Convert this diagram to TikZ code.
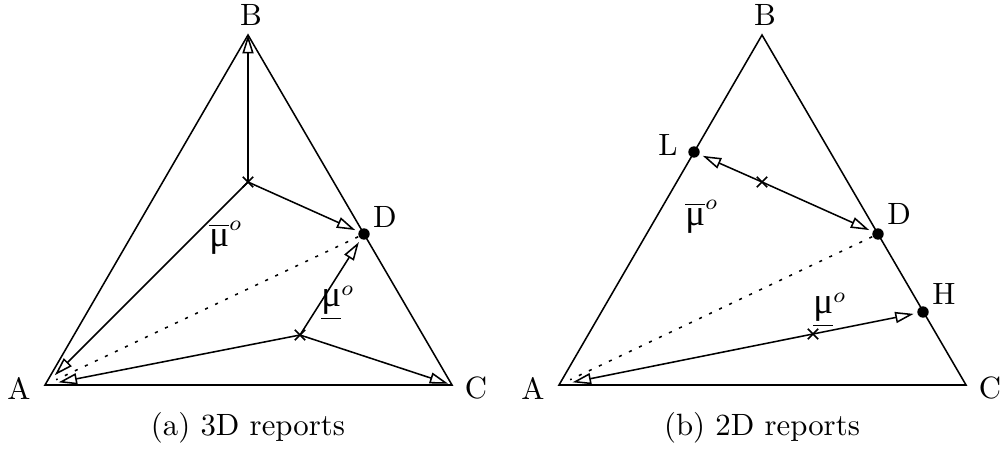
\documentclass[tikz,border=0pt]{standalone}
\usepackage{fontspec}
\newfontfamily\mufont{Liberation Serif}
\newcommand{\mue}{\hbox{\mufont\large μ}}
\usetikzlibrary{arrows.meta, shapes.misc}

\begin{document}
\begin{tikzpicture}[x=1.1416cm, y=1.1416cm,
			>={Triangle[open, length=6pt, width=3.6pt]},   %Pfeilspitzen
			line width=0.5pt, font=\normalsize,
			punkt/.style={circle, fill, inner sep=0pt, minimum size=3.7pt},
			kreuz/.style={draw, cross out, inner sep=0pt, outer sep=0pt, minimum size=3.4pt},
			zuA/.style={->, shorten >=4.5pt},
			zuP/.style={->, shorten >=1pt},
			gepunktet/.style={dash pattern=on 1pt off 2.6pt, shorten >=4pt}]
			\useasboundingbox (0,0) rectangle (10.03,4.55);
			% (a) Dreieck zeichnen
			\coordinate (A1) at (0.45,0.70);
			\coordinate (B1) at (2.48,4.20);
			\coordinate (C1) at (4.52,0.70);
			\draw (A1) -- (B1) -- (C1) -- cycle;
			\node[punkt] (D1) at (3.64,2.21) {};
			\node[kreuz] (m1) at (2.48,2.73) {};
			\node[kreuz] (m2) at (3.00,1.20) {};
			% (a) Pfeile
			\draw[->] (m1.center) -- (B1);
			\draw[zuP] (m1.center) -- (D1);
			\draw[zuA] (m1.center) -- (A1);
			\draw[zuA] (m2.center) -- (A1);
			\draw[zuP] (m2.center) -- (D1);
			\draw[->, shorten >=1.3pt] (m2.center) -- (C1);
			\draw[gepunktet] (D1) -- (A1);
			% (a) Beschriftung
			\node (lA1) at (0.19,0.67) {A};
			\node (lB1) at (2.51,4.40) {B};
			\node (lC1) at (4.76,0.67) {C};
			\node (lD1) at (3.85,2.38) {D};
			\node (mu1) at (2.26,2.17) {$\overline{\mue}^{o}$};
			\node (mu2) at (3.38,1.52) {$\underline{\mue}^{o}$};
			\node (capA) at (2.48,0.27) {(a) 3D reports};
			% (b) Dreieck zeichnen
			\coordinate (A2) at (5.59,0.70);
			\coordinate (B2) at (7.62,4.20);
			\coordinate (C2) at (9.66,0.70);
			\draw (A2) -- (B2) -- (C2) -- cycle;
			\node[punkt] (L2) at (6.94,3.03) {};
			\node[punkt] (D2) at (8.78,2.21) {};
			\node[punkt] (H2) at (9.23,1.43) {};
			\node[kreuz] (m3) at (7.62,2.73) {};
			\node[kreuz] (m4) at (8.13,1.21) {};
			% (b) Pfeile
			\draw[zuP] (m3.center) -- (L2);
			\draw[zuP] (m3.center) -- (D2);
			\draw[zuP] (m4.center) -- (H2);
			\draw[zuA] (m4.center) -- (A2);
			\draw[gepunktet] (D2) -- (A2);
			% (b) Beschriftung
			\node (lA2) at (5.33,0.67) {A};
			\node (lB2) at (7.65,4.40) {B};
			\node (lC2) at (9.90,0.67) {C};
			\node (lL2) at (6.68,3.10) {L};
			\node (lD2) at (8.99,2.41) {D};
			\node (lH2) at (9.44,1.61) {H};
			\node (mu3) at (7.02,2.38) {$\overline{\mue}^{o}$};
			\node (mu4) at (8.30,1.45) {$\underline{\mue}^{o}$};
			\node (capB) at (7.62,0.27) {(b) 2D reports};
		\end{tikzpicture}
\end{document}
